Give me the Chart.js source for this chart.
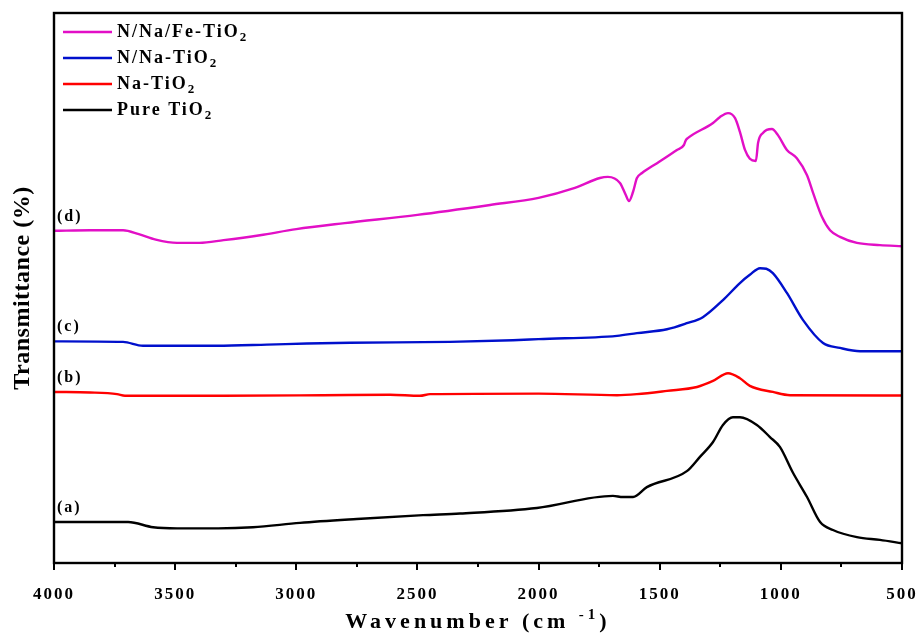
<!DOCTYPE html>
<html>
<head>
<meta charset="utf-8">
<script src="https://cdn.jsdelivr.net/npm/chart.js@4.4.1/dist/chart.umd.min.js"></script>
<style>
  html, body { margin: 0; padding: 0; background: #fff; }
  #wrap { width: 921px; height: 633px; }
</style>
</head>
<body>
<div id="wrap"><canvas id="ftir" width="921" height="633"></canvas></div>
<script>
// Espectros FTIR (transmitancia desplazada, unidades arbitrarias 0..100)

// (d) N/Na/Fe-TiO2
const wnD = [4000, 3850, 3715, 3650, 3580, 3492, 3400, 3300, 3150, 3000, 2800, 2500, 2200, 2000, 1850,
  1747, 1714, 1664, 1640, 1627, 1610, 1594, 1573, 1511, 1429, 1400, 1392, 1383, 1280, 1251,
  1218, 1189, 1169, 1148, 1128, 1103, 1094, 1074, 1037, 1012, 975, 934, 892, 867, 830,
  797, 756, 686, 591, 500];
const tD = [60.4, 60.5, 60.5, 59.8, 58.8, 58.2, 58.2, 58.7, 59.6, 60.7, 61.8, 63.3, 65.1, 66.4, 68.2,
  70.0, 70.2, 69.1, 66.9, 65.8, 67.5, 70.0, 70.9, 72.7, 75.1, 76.0, 76.9, 77.3, 80.0, 81.1,
  81.8, 80.9, 78.4, 75.1, 73.5, 73.1, 76.4, 78.2, 78.9, 77.8, 75.1, 73.6, 70.5, 67.3, 62.9,
  60.5, 59.3, 58.2, 57.8, 57.6];

// (c) N/Na-TiO2
const wnC = [4000, 3715, 3633, 3327, 3121, 2956, 2778, 2366, 2106, 2000, 1676, 1594, 1470, 1388,
  1322, 1239, 1169, 1128, 1086, 1060, 1033, 975, 909, 826, 756, 673, 500];
const tC = [40.3, 40.2, 39.5, 39.5, 39.7, 39.9, 40.05, 40.2, 40.5, 40.7, 41.3, 41.8, 42.5, 43.6,
  44.7, 47.8, 50.9, 52.4, 53.6, 53.5, 52.7, 49.1, 44.2, 40.0, 39.1, 38.5, 38.5];

// (b) Na-TiO2
const wnB = [4000, 3851, 3740, 3707, 3300, 2890, 2613, 2490, 2448, 2000, 1676, 1594, 1470, 1346,
  1280, 1218, 1169, 1128, 1033, 962, 500];
const tB = [31.1, 31.0, 30.7, 30.4, 30.4, 30.5, 30.6, 30.4, 30.7, 30.8, 30.5, 30.7, 31.3, 32.0,
  33.1, 34.5, 33.6, 32.2, 31.1, 30.5, 30.45];

// (a) Pure TiO2
const wnA = [4000, 3694, 3591, 3492, 3323, 3179, 2985, 2750, 2477, 2324, 2007, 1693, 1652, 1610,
  1553, 1388, 1334, 1280, 1239, 1198, 1169, 1099, 1045, 1004, 950, 892, 838, 785, 686, 591, 500];
const tA = [7.45, 7.45, 6.5, 6.3, 6.3, 6.5, 7.3, 8.0, 8.7, 9.0, 10.0, 12.2, 12.0, 12.0,
  13.8, 16.7, 19.3, 22.0, 25.1, 26.5, 26.5, 25.1, 22.9, 21.1, 16.4, 12.0, 7.45, 6.0, 4.7, 4.2, 3.6];

const seriesNames = ["N/Na/Fe-TiO2", "N/Na-TiO2", "Na-TiO2", "Pure TiO2"];
const seriesTags = ["(d)", "(c)", "(b)", "(a)"];
const seriesColors = ["#e20fc6", "#0010cc", "#ff0000", "#000000"];
const seriesX = [wnD, wnC, wnB, wnA];
const seriesY = [tD, tC, tB, tA];

const X_MIN = 500, X_MAX = 4000;
const FONT = '"Liberation Serif", "Times New Roman", serif';

// texto con el "2" final como subíndice (TiO2)
function chemText(ctx, txt, x, y, size) {
  const base = txt.endsWith("2") ? txt.slice(0, -1) : txt;
  ctx.font = `bold ${size}px ${FONT}`;
  ctx.fillText(base, x, y);
  if (base !== txt) {
    const w = ctx.measureText(base).width;
    ctx.font = `bold ${Math.round(size * 0.7)}px ${FONT}`;
    ctx.fillText("2", x + w, y + size * 0.32);
  }
}

const decor = {
  id: "decor",
  beforeDraw(chart) {
    chart.ctx.letterSpacing = "2px"; // etiquetas del eje x espaciadas
  },
  afterDraw(chart) {
    const { ctx, chartArea: a } = chart;
    const xs = chart.scales.x, ys = chart.scales.y;
    ctx.save();
    ctx.strokeStyle = "#000";
    ctx.fillStyle = "#000";

    // marco
    ctx.lineWidth = 2.4;
    ctx.strokeRect(a.left, a.top, a.right - a.left, a.bottom - a.top);

    // ticks mayores (500) y menores (250)
    ctx.lineWidth = 2;
    for (let w = X_MIN; w <= X_MAX; w += 250) {
      const px = Math.round(xs.getPixelForValue(w));
      const len = w % 500 ? 4 : 7;
      ctx.beginPath();
      ctx.moveTo(px, a.bottom);
      ctx.lineTo(px, a.bottom + len);
      ctx.stroke();
    }

    // leyenda
    ctx.textBaseline = "middle";
    ctx.textAlign = "left";
    ctx.letterSpacing = "2px";
    seriesNames.forEach((name, i) => {
      const y = 32 + i * 26;
      ctx.strokeStyle = seriesColors[i];
      ctx.lineWidth = 2.4;
      ctx.beginPath();
      ctx.moveTo(63, y);
      ctx.lineTo(112, y);
      ctx.stroke();
      ctx.fillStyle = "#000";
      chemText(ctx, name, 117, y, 18);
    });

    // etiquetas (a)-(d) sobre el inicio de cada curva
    ctx.textBaseline = "bottom";
    ctx.font = `bold 16px ${FONT}`;
    seriesTags.forEach((tag, i) => {
      const py = ys.getPixelForValue(seriesY[i][0]);
      ctx.fillText(tag, a.left + 3, py - 6);
    });

    // título eje x: Wavenumber (cm-1)
    ctx.letterSpacing = "4px";
    ctx.textBaseline = "alphabetic";
    const big = `bold 22px ${FONT}`, sup = `bold 15px ${FONT}`;
    const parts = [["Wavenumber (cm ", big, 0], ["-1", sup, -9], [")", big, 0]];
    let total = 0;
    parts.forEach(([t, f]) => { ctx.font = f; total += ctx.measureText(t).width; });
    let x = (a.left + a.right) / 2 - total / 2;
    parts.forEach(([t, f, dy]) => {
      ctx.font = f;
      ctx.fillText(t, x, 628 + dy);
      x += ctx.measureText(t).width;
    });

    // título eje y
    ctx.letterSpacing = "0.5px";
    ctx.translate(23, (a.top + a.bottom) / 2);
    ctx.rotate(-Math.PI / 2);
    ctx.textAlign = "center";
    ctx.textBaseline = "middle";
    ctx.font = `bold 24px ${FONT}`;
    ctx.fillText("Transmittance (%)", 0, 0);
    ctx.restore();
    ctx.letterSpacing = "0px";
  },
};

new Chart(document.getElementById("ftir"), {
  type: "line",
  data: {
    datasets: seriesNames.map((name, i) => ({
      label: name,
      data: seriesX[i].map((w, k) => ({ x: w, y: seriesY[i][k] })),
      borderColor: seriesColors[i],
      borderWidth: 2.4,
      pointRadius: 0,
      cubicInterpolationMode: "monotone",
    })),
  },
  options: {
    responsive: false,
    animation: false,
    devicePixelRatio: 1,
    layout: { padding: { left: 54, right: 19, top: 13, bottom: 0 } },
    plugins: { legend: { display: false }, tooltip: { enabled: false } },
    scales: {
      x: {
        type: "linear",
        min: X_MIN,
        max: X_MAX,
        reverse: true,
        grid: { display: false, drawTicks: false },
        border: { display: false },
        ticks: {
          stepSize: 500,
          autoSkip: false,
          maxRotation: 0,
          padding: 21,
          color: "#000",
          font: { family: FONT, size: 17, weight: "bold" },
          callback: (v) => String(v),
        },
        afterFit(scale) {
          scale.height = 70;
          scale.paddingLeft = 0;
          scale.paddingRight = 0;
        },
      },
      y: { display: false, min: 0, max: 100 },
    },
  },
  plugins: [decor],
});
</script>
</body>
</html>
